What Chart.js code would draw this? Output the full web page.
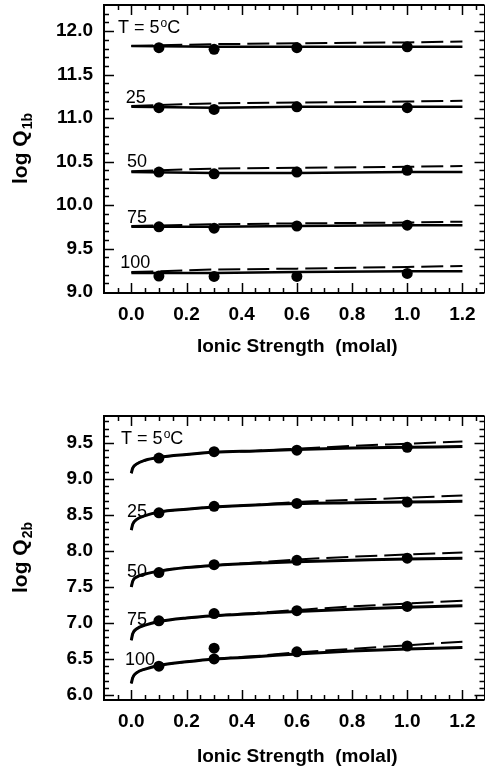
<!DOCTYPE html>
<html>
<head>
<meta charset="utf-8">
<script src="https://cdn.jsdelivr.net/npm/chart.js@4.4.0/dist/chart.umd.min.js"></script>
<style>
  body { margin: 0; background: #fff; width: 490px; height: 773px; overflow: hidden; }
  canvas { position: absolute; left: 0; }
  #topChart { top: -20px; }
  #bottomChart { top: 380px; }
</style>
</head>
<body>
<canvas id="topChart" width="490" height="400"></canvas>
<canvas id="bottomChart" width="490" height="393"></canvas>
<script>
// temperatures (deg C) of the five curves, top to bottom
const temps = ['5', '25', '50', '75', '100'];

// measured ionic strengths (molal)
const ionic = [0.1, 0.3, 0.6, 1.0];

// tick labels
const xTicks = [0.0, 0.2, 0.4, 0.6, 0.8, 1.0, 1.2];
const yTicksQ1 = [9.0, 9.5, 10.0, 10.5, 11.0, 11.5, 12.0];
const yTicksQ2 = [6.0, 6.5, 7.0, 7.5, 8.0, 8.5, 9.0, 9.5];

// --- log Q1b (upper panel) ---
const q1bPts = [
  [11.81, 11.79, 11.81, 11.82],
  [11.12, 11.10, 11.13, 11.12],
  [10.38, 10.36, 10.38, 10.40],
  [9.75, 9.735, 9.76, 9.77],
  [9.185, 9.18, 9.18, 9.215]
];
const q1bLineX = [0.0, 0.3, 0.6, 1.0, 1.2];
const q1bFit = [
  [11.83, 11.82, 11.82, 11.82, 11.82],
  [11.13, 11.12, 11.13, 11.13, 11.13],
  [10.38, 10.37, 10.37, 10.38, 10.38],
  [9.75, 9.75, 9.76, 9.77, 9.77],
  [9.22, 9.22, 9.23, 9.24, 9.24]
];
const q1bDash = [
  [11.83, 11.85, 11.86, 11.87, 11.88],
  [11.14, 11.17, 11.18, 11.19, 11.20],
  [10.39, 10.42, 10.43, 10.44, 10.45],
  [9.76, 9.78, 9.79, 9.80, 9.81],
  [9.23, 9.26, 9.27, 9.29, 9.30]
];

// --- log Q2b (lower panel) ---
const q2bPts = [
  [9.29, 9.38, 9.40, 9.44],
  [8.53, 8.62, 8.66, 8.68],
  [7.70, 7.81, 7.87, 7.90],
  [7.03, 7.13, 7.17, 7.23],
  [6.40, 6.50, 6.60, 6.68]
];
// second measurement at I = 0.3, T = 100
const q2bExtraX = [0.3];
const q2bExtra100 = [6.65];
const q2bLineX = [0.0, 0.005, 0.02, 0.05, 0.1, 0.2, 0.3, 0.45, 0.6, 0.8, 1.0, 1.2];
const q2bFit = [
  [9.08, 9.15, 9.21, 9.26, 9.30, 9.34, 9.37, 9.39, 9.41, 9.43, 9.44, 9.45],
  [8.29, 8.37, 8.44, 8.49, 8.54, 8.58, 8.61, 8.64, 8.66, 8.67, 8.68, 8.69],
  [7.50, 7.58, 7.64, 7.68, 7.72, 7.77, 7.80, 7.83, 7.85, 7.87, 7.89, 7.90],
  [6.76, 6.85, 6.92, 6.97, 7.02, 7.07, 7.10, 7.13, 7.16, 7.19, 7.22, 7.24],
  [6.16, 6.24, 6.31, 6.36, 6.41, 6.46, 6.50, 6.53, 6.57, 6.61, 6.64, 6.66]
];
const q2bDash = [
  [9.08, 9.15, 9.21, 9.26, 9.30, 9.34, 9.37, 9.39, 9.42, 9.46, 9.49, 9.52],
  [8.29, 8.37, 8.44, 8.49, 8.54, 8.58, 8.61, 8.64, 8.68, 8.71, 8.74, 8.77],
  [7.50, 7.58, 7.64, 7.68, 7.72, 7.77, 7.80, 7.84, 7.88, 7.92, 7.95, 7.98],
  [6.76, 6.85, 6.92, 6.97, 7.02, 7.07, 7.10, 7.14, 7.18, 7.23, 7.27, 7.31],
  [6.16, 6.24, 6.31, 6.36, 6.41, 6.46, 6.50, 6.54, 6.59, 6.64, 6.69, 6.74]
];

// where the temperature labels sit (data coords of the label's left/middle)
const q1bLabelPos = [[-0.048, 12.03], [-0.02, 11.23], [-0.016, 10.49], [-0.016, 9.85], [-0.04, 9.33]];
const q2bLabelPos = [[-0.037, 9.55], [-0.016, 8.54], [-0.016, 7.71], [-0.016, 7.04], [-0.023, 6.49]];

Chart.defaults.font.family = "'Liberation Sans', Arial, sans-serif";
Chart.defaults.color = '#000';

function xy(xs, ys) {
  return xs.map((v, i) => ({ x: v, y: ys[i] }));
}

function buildSets(lineX, fit, dash, pts, smooth) {
  const sets = [];
  temps.forEach((t, k) => {
    sets.push({
      label: t + ' dashed', data: xy(lineX, dash[k]), showLine: true, order: 2,
      borderColor: '#000', borderWidth: 2, borderDash: [22, 7], pointRadius: 0,
      cubicInterpolationMode: smooth ? 'monotone' : 'default', tension: 0
    });
    sets.push({
      label: t + ' fit', data: xy(lineX, fit[k]), showLine: true, order: 1,
      borderColor: '#000', borderWidth: smooth ? 3 : 2.5, pointRadius: 0,
      cubicInterpolationMode: smooth ? 'monotone' : 'default', tension: 0
    });
    sets.push({
      label: t + ' data', data: xy(ionic, pts[k]), showLine: false, order: 0,
      pointRadius: 5.5, pointBackgroundColor: '#000', pointBorderColor: '#000', pointBorderWidth: 0
    });
  });
  return sets;
}

// frame, inward ticks on all four sides, axis titles and temperature labels
const decorations = {
  id: 'decorations',
  afterDraw(chart, args, opts) {
    const { ctx, chartArea: a, scales: { x, y } } = chart;
    ctx.save();
    ctx.strokeStyle = '#000';
    ctx.fillStyle = '#000';

    ctx.lineWidth = 2;
    ctx.beginPath();
    ctx.moveTo(a.right, a.top); ctx.lineTo(a.left, a.top);
    ctx.lineTo(a.left, a.bottom); ctx.lineTo(a.right, a.bottom);
    ctx.stroke();
    ctx.lineWidth = 1;
    ctx.beginPath();
    ctx.moveTo(a.right, a.top); ctx.lineTo(a.right, a.bottom);
    ctx.stroke();

    ctx.lineWidth = 1.5;
    ctx.beginPath();
    for (let i = -2; i <= 26; i++) {
      const px = Math.round(x.getPixelForValue(i * 0.05)) + 0.5;
      if (px <= a.left + 2 || px >= a.right - 1) continue;
      const len = i % 4 === 0 ? 10 : 5;
      ctx.moveTo(px, a.bottom); ctx.lineTo(px, a.bottom - len);
      ctx.moveTo(px, a.top); ctx.lineTo(px, a.top + len);
    }
    for (let i = Math.ceil(y.min * 10); i <= Math.floor(y.max * 10); i++) {
      const py = Math.round(y.getPixelForValue(i / 10)) + 0.5;
      if (py <= a.top + 1 || py >= a.bottom - 1) continue;
      const len = i % 5 === 0 ? 10 : 5;
      ctx.moveTo(a.left, py); ctx.lineTo(a.left + len, py);
      ctx.moveTo(a.right, py); ctx.lineTo(a.right - len, py);
    }
    ctx.stroke();

    // x title
    ctx.font = "bold 19px 'Liberation Sans', Arial, sans-serif";
    ctx.textAlign = 'center';
    ctx.textBaseline = 'middle';
    ctx.fillText('Ionic Strength  (molal)', (a.left + a.right) / 2 + 3, a.bottom + opts.xTitleGap);

    // y title with subscript
    const big = "bold 21px 'Liberation Sans', Arial, sans-serif";
    const small = "bold 14px 'Liberation Sans', Arial, sans-serif";
    ctx.font = big;
    const w1 = ctx.measureText('log Q').width;
    ctx.font = small;
    const w2 = ctx.measureText(opts.sub).width;
    ctx.save();
    ctx.translate(27, (a.top + a.bottom) / 2);
    ctx.rotate(-Math.PI / 2);
    ctx.textAlign = 'left';
    ctx.textBaseline = 'alphabetic';
    ctx.font = big;
    ctx.fillText('log Q', -(w1 + w2) / 2, 0);
    ctx.font = small;
    ctx.fillText(opts.sub, -(w1 + w2) / 2 + w1 + 1, 5);
    ctx.restore();

    // temperature labels
    ctx.textAlign = 'left';
    ctx.textBaseline = 'middle';
    const lab = "18px 'Liberation Sans', Arial, sans-serif";
    opts.labelPos.forEach((p, k) => {
      let px = x.getPixelForValue(p[0]);
      const py = y.getPixelForValue(p[1]);
      ctx.font = lab;
      if (k === 0) {
        const s = 'T = ' + temps[0];
        ctx.fillText(s, px, py);
        px += ctx.measureText(s).width + 1;
        ctx.font = "12px 'Liberation Sans', Arial, sans-serif";
        ctx.fillText('o', px, py - 5);
        px += ctx.measureText('o').width;
        ctx.font = lab;
        ctx.fillText('C', px, py);
      } else {
        ctx.fillText(temps[k], px, py);
      }
    });
    ctx.restore();
  }
};

function makeChart(id, datasets, yMin, yMax, yTicks, axisHeight, xTitleGap, sub, labelPos, topPad) {
  return new Chart(document.getElementById(id), {
    type: 'scatter',
    data: { datasets: datasets },
    options: {
      responsive: false,
      animation: false,
      layout: { padding: { left: 0, right: 1, top: topPad, bottom: 0 } },
      plugins: {
        legend: { display: false },
        tooltip: { enabled: false },
        decorations: { xTitleGap: xTitleGap, sub: sub, labelPos: labelPos }
      },
      scales: {
        x: {
          type: 'linear', min: -0.099, max: 1.28,
          grid: { display: false, drawTicks: false },
          border: { display: false },
          afterBuildTicks: (s) => { s.ticks = xTicks.map(v => ({ value: v })); },
          afterFit: (s) => { s.height = axisHeight; },
          ticks: {
            padding: 10,
            font: { size: 19, weight: 'bold' },
            callback: (v) => v.toFixed(1)
          }
        },
        y: {
          type: 'linear', min: yMin, max: yMax,
          grid: { display: false, drawTicks: false },
          border: { display: false },
          afterBuildTicks: (s) => { s.ticks = yTicks.map(v => ({ value: v })); },
          afterFit: (s) => { s.width = 104; },
          ticks: {
            padding: 11,
            font: { size: 19, weight: 'bold' },
            callback: (v) => v.toFixed(1)
          }
        }
      }
    },
    plugins: [decorations]
  });
}

const topSets = buildSets(q1bLineX, q1bFit, q1bDash, q1bPts, false);
makeChart('topChart', topSets, 8.99, 12.30, yTicksQ1, 87, 54, '1b', q1bLabelPos, 25);

const bottomSets = buildSets(q2bLineX, q2bFit, q2bDash, q2bPts, true);
bottomSets.push({
  label: '100 data (repeat)', data: xy(q2bExtraX, q2bExtra100), showLine: false, order: 0,
  pointRadius: 5.5, pointBackgroundColor: '#000', pointBorderColor: '#000', pointBorderWidth: 0
});
makeChart('bottomChart', bottomSets, 5.93, 9.875, yTicksQ2, 73, 57, '2b', q2bLabelPos, 36);
</script>
</body>
</html>
